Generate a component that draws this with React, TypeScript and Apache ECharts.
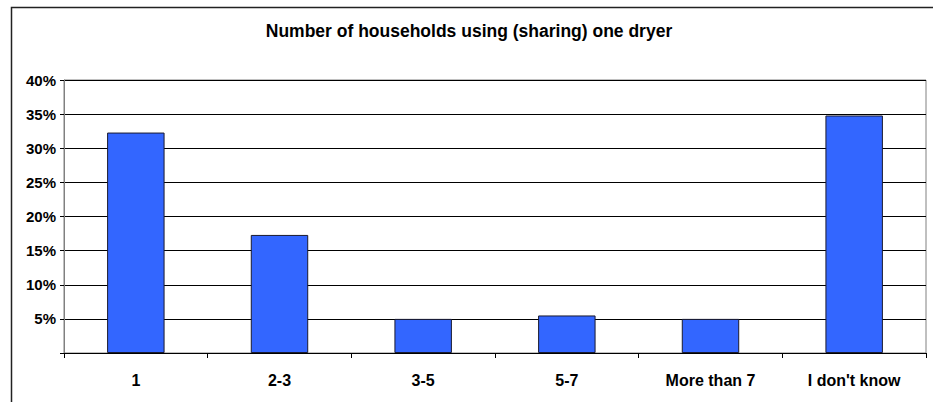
import React, { useEffect, useRef } from "react";
import * as echarts from "echarts";

const categories = ["1", "2-3", "3-5", "5-7", "More than 7", "I don't know"];
const values = [32.3, 17.3, 5.0, 5.5, 5.0, 34.8];
const yTicks = [0, 5, 10, 15, 20, 25, 30, 35, 40];
const titleText = "Number of households using (sharing) one dryer";

const FONT = "'Liberation Sans', Arial, sans-serif";

export default function App() {
  const ref = useRef<HTMLDivElement>(null);
  useEffect(() => {
    if (!ref.current) return;
    const chart = echarts.init(ref.current, null, { renderer: "svg" });
    chart.setOption({
      animation: false,
      backgroundColor: "#ffffff",
      grid: {
        left: 64,
        right: 7,
        top: 80,
        bottom: 49,
        show: true,
        borderColor: "#808080",
        borderWidth: 1,
        backgroundColor: "transparent",
      },
      graphic: [
        {
          type: "rect",
          shape: { x: 11.5, y: 7.5, width: 1000, height: 600 },
          style: { fill: "none", stroke: "#222", lineWidth: 1.5 },
          silent: true,
        },
        {
          type: "text",
          x: 469,
          y: 31,
          style: {
            text: titleText,
            fontFamily: FONT,
            fontWeight: "bold",
            fontSize: 17.5,
            fill: "#000",
            textAlign: "center",
            textVerticalAlign: "middle",
          },
        },
      ],
      xAxis: {
        type: "category",
        data: categories,
        axisLine: { lineStyle: { color: "#000", width: 1 } },
        axisTick: { show: true, length: 5, lineStyle: { color: "#000" } },
        axisLabel: {
          color: "#000",
          fontFamily: FONT,
          fontWeight: "bold",
          fontSize: 16,
          margin: 19,
        },
      },
      yAxis: {
        type: "value",
        min: yTicks[0],
        max: yTicks[yTicks.length - 1],
        interval: 5,
        axisLine: { show: true, lineStyle: { color: "#808080", width: 1 } },
        axisTick: { show: true, length: 4, lineStyle: { color: "#000" } },
        splitLine: { show: true, lineStyle: { color: "#000", width: 1 } },
        axisLabel: {
          color: "#000",
          fontFamily: FONT,
          fontWeight: "bold",
          fontSize: 15,
          margin: 8,
          formatter: (v: number) => (v === 0 ? "" : v + "%"),
        },
      },
      series: [
        {
          type: "bar",
          data: values,
          barCategoryGap: "60%",
          itemStyle: { color: "#3366FF", borderColor: "#1a1a2e", borderWidth: 1 },
        },
      ],
    });
    return () => chart.dispose();
  }, []);
  return (
    <div
      ref={ref}
      style={{ position: "fixed", left: 0, top: 0, width: 933, height: 402 }}
    />
  );
}
